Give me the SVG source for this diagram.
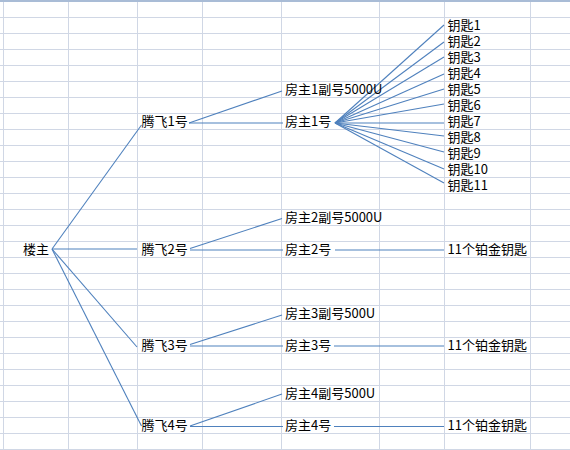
<svg xmlns="http://www.w3.org/2000/svg" width="570" height="450" viewBox="0 0 570 450">
<style>
.g{stroke:#d0d7e5;stroke-width:1;fill:none}
.c line{stroke:#4f81bd;stroke-width:1.1;fill:none}
text{font-family:"Noto Sans CJK SC","Liberation Sans",sans-serif;font-size:13px;fill:#000}
</style>
<rect x="0" y="0" width="570" height="450" fill="#fff"/>
<g id="grid">
<path class="g" d="M0 17.5H570M0 33.5H570M0 49.5H570M0 65.5H570M0 81.5H570M0 97.5H570M0 113.5H570M0 129.5H570M0 145.5H570M0 161.5H570M0 177.5H570M0 193.5H570M0 209.5H570M0 225.5H570M0 241.5H570M0 257.5H570M0 273.5H570M0 289.5H570M0 305.5H570M0 321.5H570M0 337.5H570M0 353.5H570M0 369.5H570M0 385.5H570M0 401.5H570M0 417.5H570M0 433.5H570M0 449.5H570"/>
<path class="g" d="M3.5 0V450M68.5 0V450M137.5 0V450M202.5 0V450M281.5 0V450M379.5 0V450M444.5 0V450M530.5 0V450"/>
<line x1="0" y1="1" x2="570" y2="1" stroke="#a9bcd6" stroke-width="2"/>
</g>
<g id="connectors" class="c">
<line x1="52" y1="249" x2="141.5" y2="125"/>
<line x1="52" y1="249" x2="137" y2="249"/>
<line x1="52" y1="249" x2="137" y2="347"/>
<line x1="52" y1="249" x2="141.5" y2="426"/>
<line x1="189" y1="123" x2="282" y2="91"/>
<line x1="189" y1="123" x2="283" y2="123"/>
<line x1="335" y1="123" x2="444" y2="25"/>
<line x1="335" y1="123" x2="444" y2="42"/>
<line x1="335" y1="123" x2="444" y2="57"/>
<line x1="335" y1="123" x2="444" y2="74"/>
<line x1="335" y1="123" x2="444" y2="89"/>
<line x1="335" y1="123" x2="444" y2="104"/>
<line x1="335" y1="123" x2="444" y2="123"/>
<line x1="335" y1="123" x2="444" y2="136"/>
<line x1="335" y1="123" x2="444" y2="152"/>
<line x1="335" y1="123" x2="444" y2="169"/>
<line x1="335" y1="123" x2="444" y2="183"/>
<line x1="190" y1="248.5" x2="282" y2="218.5"/>
<line x1="190" y1="250" x2="283" y2="250"/>
<line x1="335" y1="250" x2="444" y2="250"/>
<line x1="190" y1="344.5" x2="282" y2="315"/>
<line x1="190" y1="346" x2="283" y2="346"/>
<line x1="334" y1="346" x2="444" y2="346"/>
<line x1="190" y1="426" x2="282" y2="394"/>
<line x1="190" y1="426.5" x2="283" y2="426.5"/>
<line x1="334" y1="426.5" x2="444" y2="426.5"/>
</g>
<g id="louzhu"><text x="23" y="254">楼主</text></g>
<g id="tengfei1"><text x="141.5" y="126">腾飞1号</text></g>
<g id="tengfei2"><text x="141.5" y="254">腾飞2号</text></g>
<g id="tengfei3"><text x="141.5" y="350">腾飞3号</text></g>
<g id="tengfei4"><text x="141.5" y="430">腾飞4号</text></g>
<g id="fz1fu"><text x="285" y="94">房主1副号5000U</text></g>
<g id="fz1"><text x="285" y="126">房主1号</text></g>
<g id="fz2fu"><text x="285" y="222">房主2副号5000U</text></g>
<g id="fz2"><text x="285" y="254">房主2号</text></g>
<g id="fz3fu"><text x="285" y="318">房主3副号500U</text></g>
<g id="fz3"><text x="285" y="350">房主3号</text></g>
<g id="fz4fu"><text x="285" y="398">房主4副号500U</text></g>
<g id="fz4"><text x="285" y="430">房主4号</text></g>
<g id="key1"><text x="447.5" y="30">钥匙1</text></g>
<g id="key2"><text x="447.5" y="46">钥匙2</text></g>
<g id="key3"><text x="447.5" y="62">钥匙3</text></g>
<g id="key4"><text x="447.5" y="78">钥匙4</text></g>
<g id="key5"><text x="447.5" y="94">钥匙5</text></g>
<g id="key6"><text x="447.5" y="110">钥匙6</text></g>
<g id="key7"><text x="447.5" y="126">钥匙7</text></g>
<g id="key8"><text x="447.5" y="142">钥匙8</text></g>
<g id="key9"><text x="447.5" y="158">钥匙9</text></g>
<g id="key10"><text x="447.5" y="174">钥匙10</text></g>
<g id="key11"><text x="447.5" y="190">钥匙11</text></g>
<g id="plat2"><text x="447.5" y="254">11个铂金钥匙</text></g>
<g id="plat3"><text x="447.5" y="350">11个铂金钥匙</text></g>
<g id="plat4"><text x="447.5" y="430">11个铂金钥匙</text></g>
</svg>
